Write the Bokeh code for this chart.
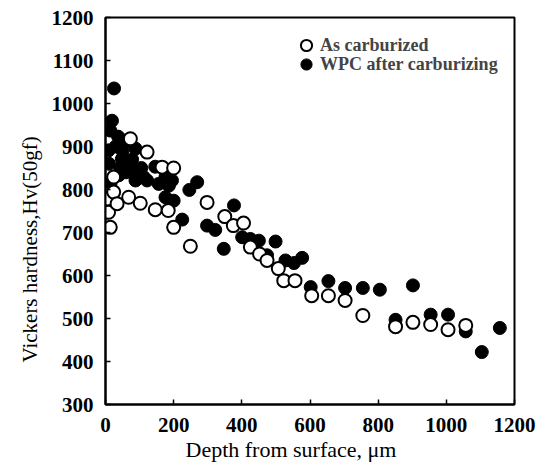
from bokeh.plotting import figure
from bokeh.models import Legend, LegendItem, FixedTicker, Range1d, Title
from bokeh.embed import file_html
from bokeh.resources import INLINE

# As carburized (open circles)
ac_x = [7, 9, 14, 24, 24, 34, 68, 73, 102, 122, 146, 166, 184, 200, 200,
        249, 298, 350, 375, 405, 425, 452, 474, 507, 523, 556, 605, 654,
        703, 755, 851, 902, 954, 1005, 1057]
ac_y = [778, 747, 712, 794, 829, 767, 782, 918, 768, 887, 753, 852, 751, 850, 712,
        668, 770, 737, 716, 722, 666, 650, 635, 616, 588, 588, 553, 553,
        542, 507, 481, 491, 486, 474, 484]

# WPC after carburizing (filled circles)
wpc_x = [9, 10, 14, 15, 19, 25, 30, 37, 39, 43, 48, 50, 58, 60, 69, 73, 78, 88, 88,
         95, 105, 112, 122, 146, 156, 176, 176, 186, 195, 200, 225, 246, 269,
         298, 322, 347, 377, 401, 425, 450, 474, 499, 528, 553, 577, 602, 654,
         703, 755, 805, 851, 902, 954, 1005, 1057, 1104, 1157]
wpc_y = [891, 860, 937, 815, 960, 1035, 900, 923, 833, 851, 871, 890, 914, 840, 912, 856, 870, 895, 821,
         835, 850, 829, 821, 853, 813, 829, 782, 809, 821, 774, 730, 799, 817,
         716, 706, 662, 763, 689, 685, 681, 647, 679, 635, 629, 641, 573, 587,
         571, 571, 567, 497, 577, 509, 509, 470, 422, 478]

x_ticks = [0, 200, 400, 600, 800, 1000, 1200]
y_ticks = [300, 400, 500, 600, 700, 800, 900, 1000, 1100, 1200]

FONT = "Liberation Serif"

p = figure(width=555, height=466, output_backend="svg", toolbar_location=None,
           x_range=Range1d(0, 1200), y_range=Range1d(300, 1200),
           min_border_left=105, min_border_right=41, min_border_top=17,
           min_border_bottom=62)

r_wpc = p.scatter(wpc_x, wpc_y, size=13, marker="circle", fill_color="black",
                  line_color="black", line_width=1)
r_ac = p.scatter(ac_x, ac_y, size=13, marker="circle", fill_color="white",
                 line_color="black", line_width=2)

p.xgrid.visible = False
p.ygrid.visible = False
p.outline_line_color = "black"
p.outline_line_width = 2

for ax in (p.xaxis[0], p.yaxis[0]):
    ax.axis_line_width = 2
    ax.major_tick_in = 5
    ax.major_tick_out = 0
    ax.minor_tick_line_color = None
    ax.major_tick_line_width = 1.5
    ax.major_label_text_font = FONT
    ax.major_label_text_font_size = "21px"
    ax.major_label_text_font_style = "bold"
    ax.major_label_text_color = "black"

p.xaxis.ticker = FixedTicker(ticks=x_ticks)
p.yaxis.ticker = FixedTicker(ticks=y_ticks)
p.xaxis.major_label_standoff = 13
p.yaxis.major_label_standoff = 12

xtitle = Title(text="Depth from surface, μm", align="left", offset=80,
               text_font=FONT, text_font_size="22px", text_font_style="normal",
               text_color="black", standoff=0)
ytitle = Title(text="Vickers hardness,Hv(50gf)", align="left", offset=42,
               text_font=FONT, text_font_size="21px", text_font_style="normal",
               text_color="black", standoff=14)
p.add_layout(xtitle, "below")
p.add_layout(ytitle, "left")


def make_legend(label, renderer, y_loc):
    lg = Legend(items=[LegendItem(label=label, renderers=[renderer])],
                location=(187, y_loc))
    lg.border_line_color = None
    lg.background_fill_alpha = 0
    lg.label_text_font = FONT
    lg.label_text_font_size = "18px"
    lg.label_text_font_style = "bold"
    lg.label_height = 28
    lg.glyph_height = 28
    lg.glyph_width = 28
    lg.label_standoff = 0
    lg.spacing = 0
    lg.padding = 0
    lg.margin = 0
    return lg


p.add_layout(make_legend("As carburized", r_ac, 345))
p.add_layout(make_legend("WPC after carburizing", r_wpc, 326))

open("out.html", "w").write(file_html(p, INLINE))
